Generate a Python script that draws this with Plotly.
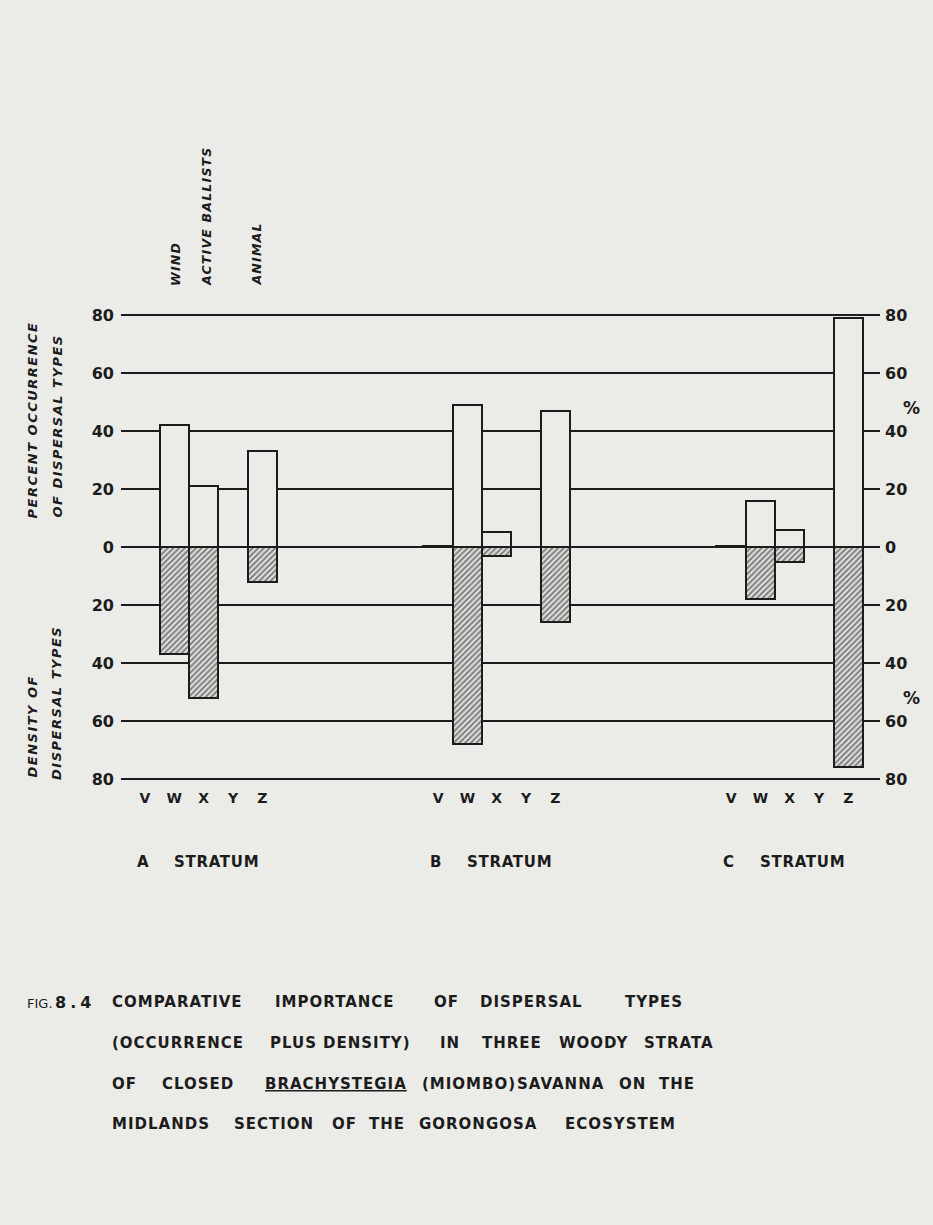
import plotly.graph_objects as go

# ---- data -------------------------------------------------------------
strata = ["A", "B", "C"]
dispersal_types = ["V", "W", "X", "Y", "Z"]

# percent occurrence of dispersal types (upper, open bars), order V..Z
occurrence_a = [0, 42, 21, 0, 33]
occurrence_b = [0.5, 49, 5, 0, 47]
occurrence_c = [0.5, 16, 6, 0, 79]

# density of dispersal types (lower, hatched bars), order V..Z
density_a = [0, 37, 52, 0, 12]
density_b = [0, 68, 3, 0, 26]
density_c = [0, 18, 5, 0, 76]

y_tick_values = [-80, -60, -40, -20, 0, 20, 40, 60, 80]
y_tick_labels = ["80", "60", "40", "20", "0", "20", "40", "60", "80"]

type_names = ["WIND", "ACTIVE BALLISTS", "ANIMAL"]

caption_lines = [
    [("COMPARATIVE", 110), ("IMPORTANCE", 273),
     ("OF", 432), ("DISPERSAL", 478), ("TYPES", 623)],
    [("(OCCURRENCE", 110), ("PLUS", 268), ("DENSITY)", 321), ("IN", 438),
     ("THREE", 480), ("WOODY", 557), ("STRATA", 642)],
    [("OF", 110), ("CLOSED", 160), ("BRACHYSTEGIA", 263), ("(MIOMBO)", 420),
     ("SAVANNA", 515), ("ON", 617), ("THE", 657)],
    [("MIDLANDS", 110), ("SECTION", 232), ("OF", 330), ("THE", 367),
     ("GORONGOSA", 417), ("ECOSYSTEM", 563)],
]
caption_rows_y = [1002, 1043, 1084, 1124]

# ---- styling ----------------------------------------------------------
BG = "#ebebe8"
INK = "#1c1c1c"
FONT = "DejaVu Sans"
GROUP_STEP = 10

W, H = 933, 1225
PLOT_L, PLOT_R, PLOT_T, PLOT_B = 121, 880, 312, 782


def px_x(px):
    return (px - PLOT_L) / (PLOT_R - PLOT_L)


def px_y(py):
    return (PLOT_B - py) / (PLOT_B - PLOT_T)


def spaced(text, gap):
    return f'<span style="letter-spacing:{gap}px">{text}</span>'


def bold_font(size):
    return dict(family=FONT, size=size, color=INK, weight="bold")


occurrence = [occurrence_a, occurrence_b, occurrence_c]
density = [density_a, density_b, density_c]

xs, occ_vals, dens_vals, tick_x, tick_t = [], [], [], [], []
for g, _ in enumerate(strata):
    for i, t in enumerate(dispersal_types):
        x = g * GROUP_STEP + i
        xs.append(x)
        occ_vals.append(occurrence[g][i])
        dens_vals.append(-density[g][i])
        tick_x.append(x)
        tick_t.append(t)

fig = go.Figure()
fig.add_trace(go.Bar(
    x=xs, y=occ_vals, width=1.0,
    marker=dict(color=BG, line=dict(color=INK, width=2)),
    yaxis="y", showlegend=False, hoverinfo="skip",
))
fig.add_trace(go.Bar(
    x=xs, y=dens_vals, width=1.0,
    marker=dict(
        color=BG,
        line=dict(color=INK, width=2),
        pattern=dict(shape="/", fgcolor=INK, bgcolor=BG, size=4, solidity=0.55),
    ),
    yaxis="y2", showlegend=False, hoverinfo="skip",
))

axis_common = dict(
    range=[-81, 81], tickvals=y_tick_values, ticktext=y_tick_labels,
    tickfont=bold_font(16), ticks="",
    showline=False, fixedrange=True,
)

annotations = []

# dispersal type names above stratum A
for name, xpx in zip(type_names, [176, 207, 256]):
    annotations.append(dict(
        text=spaced(f"<i>{name}</i>", 1.2), x=px_x(xpx), y=px_y(288),
        xref="paper", yref="paper", xanchor="center", yanchor="bottom",
        textangle=-90, showarrow=False, font=bold_font(12.5),
    ))

# left axis titles
for text, xpx, ypx, anchor in [
    ("PERCENT OCCURRENCE", 32, 320, "top"),
    ("OF DISPERSAL TYPES", 57, 333, "top"),
    ("DENSITY OF", 32, 780, "bottom"),
    ("DISPERSAL TYPES", 56, 782, "bottom"),
]:
    annotations.append(dict(
        text=spaced(f"<i>{text}</i>", 1.5), x=px_x(xpx), y=px_y(ypx),
        xref="paper", yref="paper", xanchor="center", yanchor=anchor,
        textangle=-90, showarrow=False, font=bold_font(13),
    ))

# percent signs on the right axis
for ypx in [408, 698]:
    annotations.append(dict(
        text="%", x=px_x(912), y=px_y(ypx), xref="paper", yref="paper",
        xanchor="center", yanchor="middle", showarrow=False,
        font=bold_font(17),
    ))

# stratum labels under each group
for g, s in enumerate(strata):
    annotations.append(dict(
        text=s, x=g * GROUP_STEP - 0.34, y=px_y(862), xref="x", yref="paper",
        xanchor="left", yanchor="middle", showarrow=False, font=bold_font(15),
    ))
    annotations.append(dict(
        text=spaced("STRATUM", 0.7), x=g * GROUP_STEP + 0.92, y=px_y(862),
        xref="x", yref="paper", xanchor="left", yanchor="middle",
        showarrow=False, font=bold_font(15),
    ))

# figure caption
annotations.append(dict(
    text="FIG.", x=px_x(25), y=px_y(1003), xref="paper", yref="paper",
    xanchor="left", yanchor="middle", showarrow=False,
    font=dict(family=FONT, size=13, color=INK),
))
annotations.append(dict(
    text=spaced("8.4", 4), x=px_x(53), y=px_y(1002), xref="paper", yref="paper",
    xanchor="left", yanchor="middle", showarrow=False, font=bold_font(16),
))
for row, ypx in zip(caption_lines, caption_rows_y):
    for word, xpx in row:
        font = bold_font(15)
        if word == "BRACHYSTEGIA":
            font["lineposition"] = "under"
        annotations.append(dict(
            text=spaced(word, 1), x=px_x(xpx), y=px_y(ypx),
            xref="paper", yref="paper", xanchor="left", yanchor="middle",
            showarrow=False, font=font,
        ))

fig.update_layout(
    width=W, height=H,
    margin=dict(l=PLOT_L, r=W - PLOT_R, t=PLOT_T, b=H - PLOT_B, pad=0),
    paper_bgcolor=BG, plot_bgcolor=BG,
    barmode="overlay", bargap=0,
    showlegend=False,
    xaxis=dict(
        range=[-0.82, 25.08], tickvals=tick_x, ticktext=tick_t,
        tickfont=bold_font(14), ticks="",
        showgrid=False, zeroline=False, showline=False, fixedrange=True,
        ticklabelstandoff=6,
    ),
    yaxis=dict(
        **axis_common, side="left",
        showgrid=True, gridcolor=INK, gridwidth=1.5,
        zeroline=True, zerolinecolor=INK, zerolinewidth=1.6,
        ticklabelstandoff=6,
    ),
    yaxis2=dict(
        **axis_common, side="right", overlaying="y",
        showgrid=False, zeroline=False, ticklabelstandoff=4,
    ),
    annotations=annotations,
)

fig.write_html("out.html")
